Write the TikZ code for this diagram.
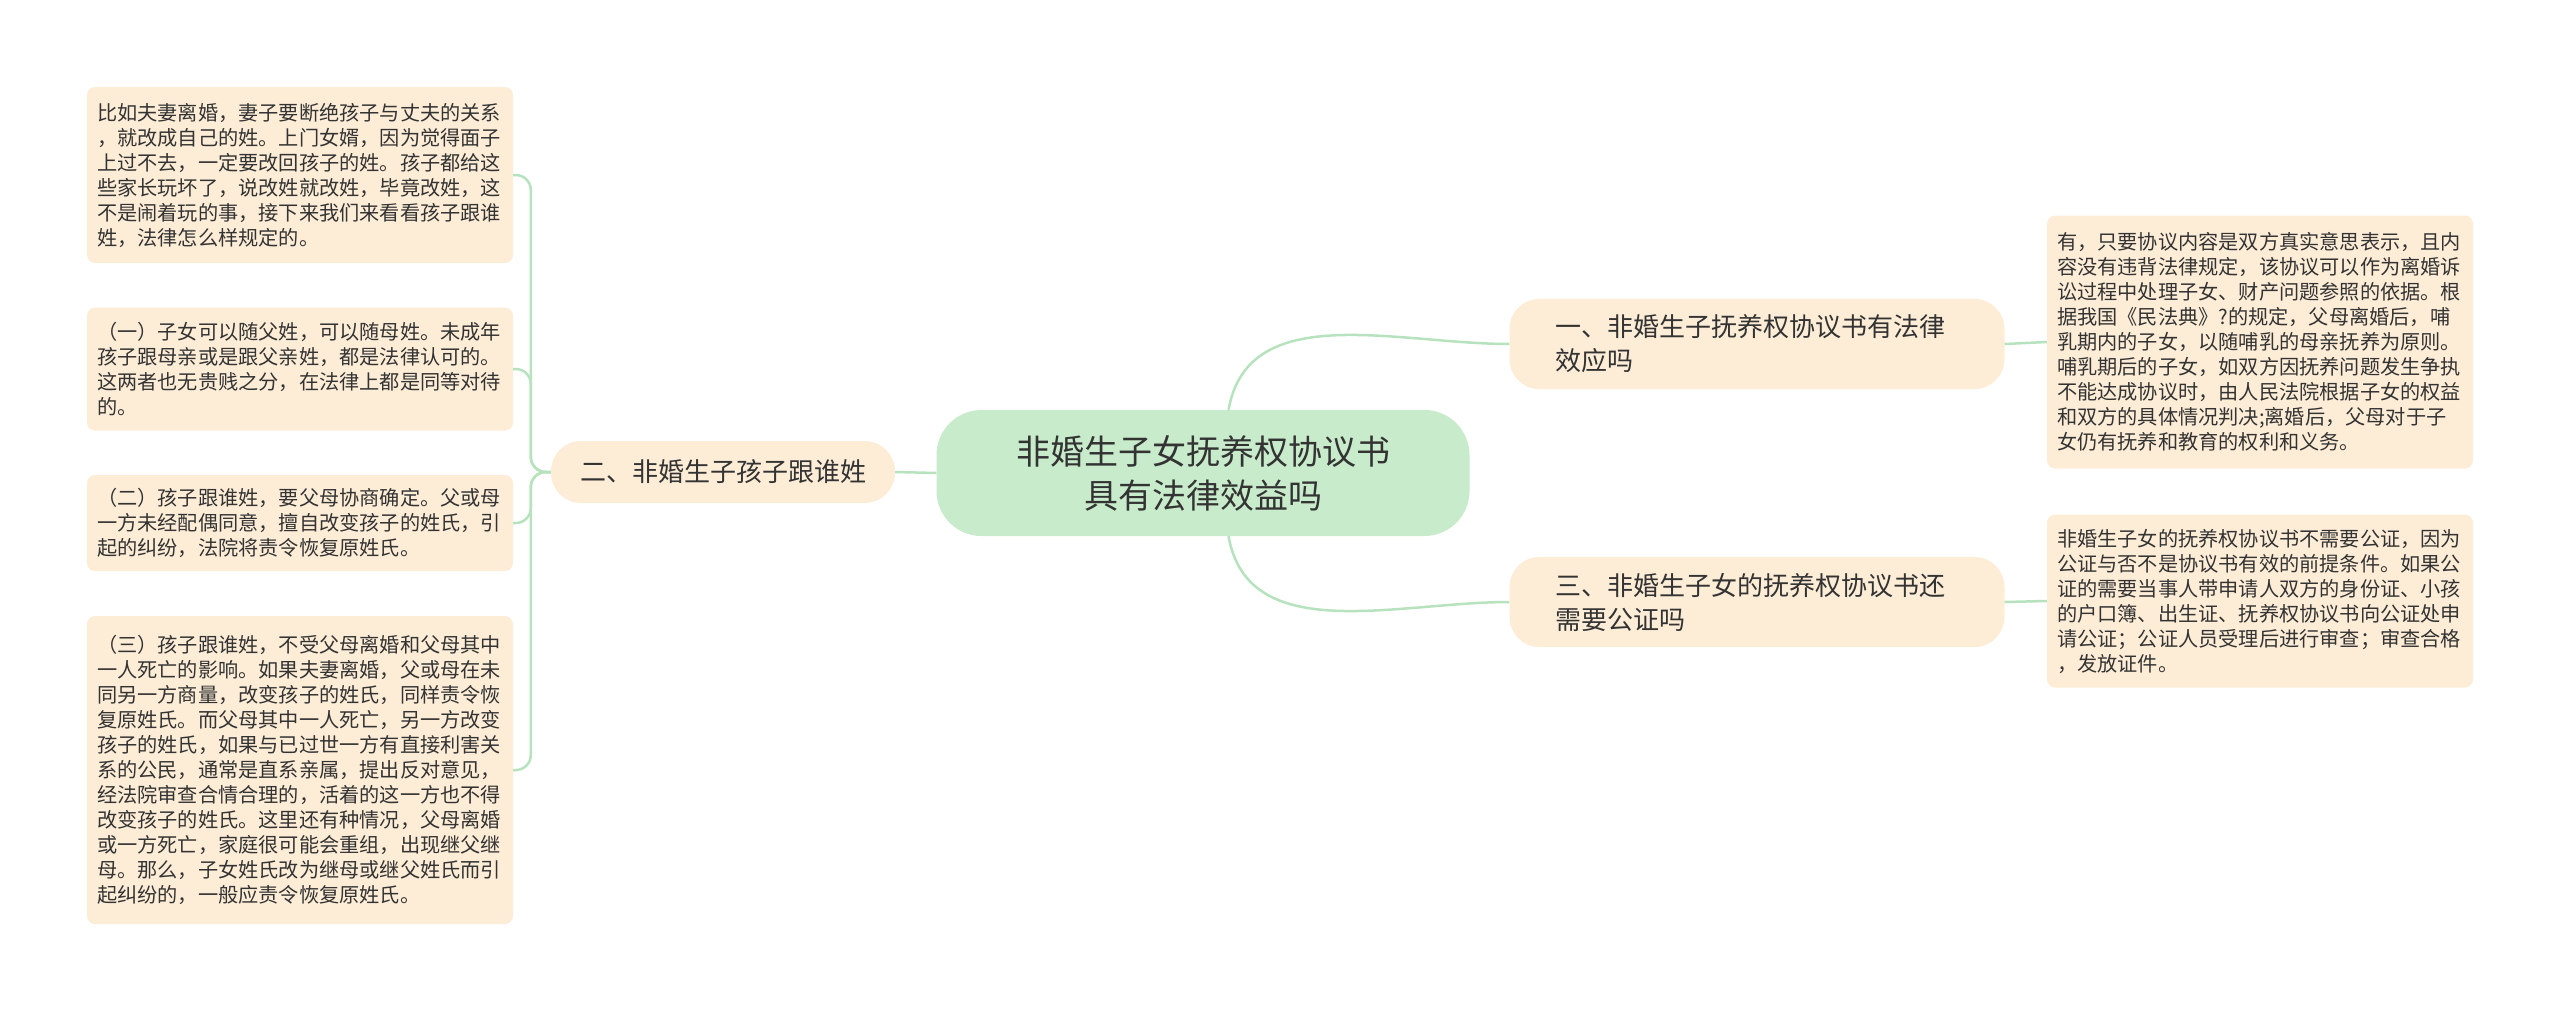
\documentclass[tikz,border=0pt]{standalone}
\usepackage{fontspec}
\setmainfont{Noto Sans CJK SC}
\definecolor{rootgreen}{HTML}{C8ECCB}
\definecolor{leafpeach}{HTML}{FDEDD7}
\definecolor{linkgreen}{HTML}{B7E2BE}
\definecolor{textgray}{HTML}{333333}
\begin{document}
\begin{tikzpicture}[x=1pt, y=-1pt,
		every node/.style={text=textgray, align=left},
		root/.style={fill=rootgreen, rounded corners=45pt, minimum width=533pt, minimum height=126pt, align=center, font=\fontsize{34}{44}\selectfont},
		branch/.style={fill=leafpeach, rounded corners=30pt, minimum height=62pt, inner xsep=29pt, inner ysep=16pt, font=\fontsize{26}{34}\selectfont},
		leaf/.style={fill=leafpeach, rounded corners=8pt, text width=406pt, inner xsep=10pt, inner ysep=8pt, font=\fontsize{20.2}{25}\selectfont},
		link/.style={draw=linkgreen, line width=2.5pt}]
		\useasboundingbox (0,0) rectangle (2560,1012);

		\node[root] (c) at (1203,473) {非婚生子女抚养权协议书\\具有法律效益吗};

		\node[branch, text width=403pt, inner xsep=46pt] (b1) at (1757,344) {一、非婚生子抚养权协议书有法律\\效应吗};
		\node[branch] (b2) at (723,472) {二、非婚生子孩子跟谁姓};
		\node[branch, text width=403pt, inner xsep=46pt] (b3) at (1757,602) {三、非婚生子女的抚养权协议书还\\需要公证吗};

		\node[leaf, minimum height=253pt] (r1) at (2260,342) {有，只要协议内容是双方真实意思表示，且内\\容没有违背法律规定，该协议可以作为离婚诉\\讼过程中处理子女、财产问题参照的依据。根\\据我国《民法典》?的规定，父母离婚后，哺\\乳期内的子女，以随哺乳的母亲抚养为原则。\\哺乳期后的子女，如双方因抚养问题发生争执\\不能达成协议时，由人民法院根据子女的权益\\和双方的具体情况判决;离婚后，父母对于子\\女仍有抚养和教育的权利和义务。};
		\node[leaf, minimum height=173pt] (r2) at (2260,601) {非婚生子女的抚养权协议书不需要公证，因为\\公证与否不是协议书有效的前提条件。如果公\\证的需要当事人带申请人双方的身份证、小孩\\的户口簿、出生证、抚养权协议书向公证处申\\请公证；公证人员受理后进行审查；审查合格\\，发放证件。};

		\node[leaf, minimum height=176pt] (l1) at (300,175) {比如夫妻离婚，妻子要断绝孩子与丈夫的关系\\，就改成自己的姓。上门女婿，因为觉得面子\\上过不去，一定要改回孩子的姓。孩子都给这\\些家长玩坏了，说改姓就改姓，毕竟改姓，这\\不是闹着玩的事，接下来我们来看看孩子跟谁\\姓，法律怎么样规定的。};
		\node[leaf, minimum height=123pt] (l2) at (300,369) {（一）子女可以随父姓，可以随母姓。未成年\\孩子跟母亲或是跟父亲姓，都是法律认可的。\\这两者也无贵贱之分，在法律上都是同等对待\\的。};
		\node[leaf, minimum height=96pt] (l3) at (300,523) {（二）孩子跟谁姓，要父母协商确定。父或母\\一方未经配偶同意，擅自改变孩子的姓氏，引\\起的纠纷，法院将责令恢复原姓氏。};
		\node[leaf, minimum height=308pt] (l4) at (300,770) {（三）孩子跟谁姓，不受父母离婚和父母其中\\一人死亡的影响。如果夫妻离婚，父或母在未\\同另一方商量，改变孩子的姓氏，同样责令恢\\复原姓氏。而父母其中一人死亡，另一方改变\\孩子的姓氏，如果与已过世一方有直接利害关\\系的公民，通常是直系亲属，提出反对意见，\\经法院审查合情合理的，活着的这一方也不得\\改变孩子的姓氏。这里还有种情况，父母离婚\\或一方死亡，家庭很可能会重组，出现继父继\\母。那么，子女姓氏改为继母或继父姓氏而引\\起纠纷的，一般应责令恢复原姓氏。};

		\draw[link] (c.west) -- (b2.east);
		\draw[link] (c.68) to[out=80, in=180] (b1.west);
		\draw[link] (c.-68) to[out=-80, in=180] (b3.west);

		\draw[link] (b1.east) -- (r1.west);
		\draw[link] (b3.east) -- (r2.west);

		\draw[link, rounded corners=15pt] (b2.west) -- ++(-20,0) |- (l1.east);
		\draw[link, rounded corners=15pt] (b2.west) -- ++(-20,0) |- (l2.east);
		\draw[link, rounded corners=15pt] (b2.west) -- ++(-20,0) |- (l3.east);
		\draw[link, rounded corners=15pt] (b2.west) -- ++(-20,0) |- (l4.east);
	\end{tikzpicture}
\end{document}
